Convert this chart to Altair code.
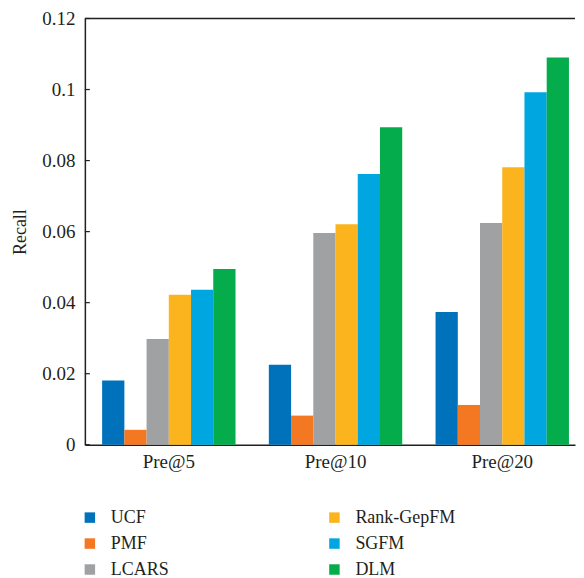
import altair as alt
import pandas as pd

groups = ["Pre@5", "Pre@10", "Pre@20"]
methods = ["UCF", "PMF", "LCARS", "Rank-GepFM", "SGFM", "DLM"]
colors = ["#0072BC", "#F47721", "#A0A1A3", "#FBB41D", "#00A6E0", "#05AC4B"]

ucf = [0.0181, 0.0225, 0.0374]
pmf = [0.0042, 0.0082, 0.0112]
lcars = [0.0298, 0.0596, 0.0624]
rank = [0.0422, 0.0621, 0.0781]
sgfm = [0.0436, 0.0762, 0.0992]
dlm = [0.0495, 0.0894, 0.1090]

y_ticks = [0, 0.02, 0.04, 0.06, 0.08, 0.1, 0.12]

series = [ucf, pmf, lcars, rank, sgfm, dlm]
rows = []
for m, vals in zip(methods, series):
    for g, v in zip(groups, vals):
        rows.append({"group": g, "method": m, "value": v})
df = pd.DataFrame(rows)

FONT = "Liberation Serif"
TXT = "#231F20"

W, H = 491, 427

bars = alt.Chart(df).mark_bar(size=22.3).encode(
    x=alt.X("group:N", sort=groups, title=None,
            scale=alt.Scale(paddingInner=0.2, paddingOuter=0.07, align=0.74),
            axis=alt.Axis(labelAngle=0, ticks=False, labelPadding=8,
                          domainColor="#231F20", domainWidth=1.5)),
    xOffset=alt.XOffset("method:N", sort=methods,
                        scale=alt.Scale(paddingInner=0, paddingOuter=0)),
    y=alt.Y("value:Q", title="Recall",
            scale=alt.Scale(domain=[0, 0.12], nice=False),
            axis=alt.Axis(values=y_ticks, format=".2~f", ticks=False, grid=False,
                          labelPadding=10, titlePadding=12,
                          domainColor="#231F20", domainWidth=1.5)),
    color=alt.Color("method:N",
                    scale=alt.Scale(domain=methods, range=colors),
                    legend=alt.Legend(title=None, orient="none", legendX=-4, legendY=491,
                                      columns=2, columnPadding=156, rowPadding=8,
                                      symbolType="square", symbolSize=110,
                                      symbolStrokeWidth=0, labelFontSize=18,
                                      labelFont=FONT, labelColor=TXT, labelOffset=12)),
)

tick_df = pd.DataFrame({"v": y_ticks})
ticks = alt.Chart(tick_df).mark_rule(color=TXT, strokeWidth=1.2).encode(
    y=alt.Y("v:Q"),
    x=alt.value(0),
    x2=alt.value(5),
)

top_df = pd.DataFrame({"v": [0.12]})
top = alt.Chart(top_df).mark_rule(color=TXT, strokeWidth=1.5).encode(
    y=alt.Y("v:Q"),
    x=alt.value(0),
    x2=alt.value(W),
)

chart = alt.layer(bars, ticks, top).properties(
    width=W, height=H,
    padding={"top": 1, "left": 3, "right": 0, "bottom": 0},
).configure_view(stroke=None).configure_axis(
    labelFont=FONT, titleFont=FONT, labelFontSize=19, titleFontSize=18,
    labelColor=TXT, titleColor=TXT, titleFontWeight="normal",
).configure_legend(padding=0)

chart.save("out.html", embed_options={"renderer": "svg", "actions": False})
